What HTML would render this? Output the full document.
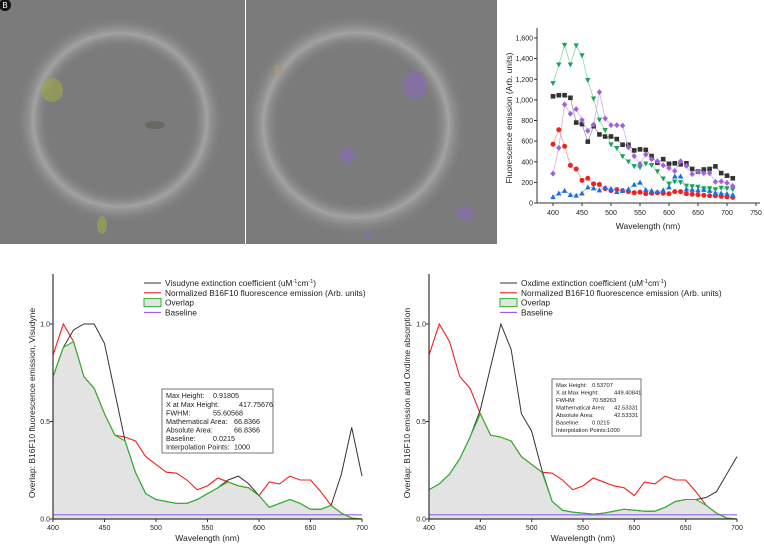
<!DOCTYPE html>
<html><head><meta charset="utf-8"><style>
body{margin:0;background:#fff;width:764px;height:546px;overflow:hidden;font-family:"Liberation Sans",sans-serif}
svg{position:absolute;left:0;top:0}
</style></head><body>
<svg id="fig" width="764" height="546" xmlns="http://www.w3.org/2000/svg" font-family="Liberation Sans, sans-serif">
<defs>
<radialGradient id="ringL" cx="0.5" cy="0.5" r="0.5">
<stop offset="0.58" stop-color="#7d7d7d" stop-opacity="0"/>
<stop offset="0.70" stop-color="#b0b0b0" stop-opacity="0.75"/>
<stop offset="0.84" stop-color="#7d7d7d" stop-opacity="0"/>
</radialGradient>
</defs>
<g>
<rect x="0" y="0" width="245" height="244" fill="#7b7b7b"/>
<circle cx="120" cy="120" r="124" fill="url(#ringL)"/>
<ellipse cx="52" cy="90" rx="11" ry="12" fill="#a0a848" opacity="0.6"/>
<ellipse cx="155" cy="125" rx="10" ry="4" fill="#5f6450" opacity="0.7"/>
<ellipse cx="102" cy="225" rx="5" ry="9" fill="#a0a848" opacity="0.6"/>
<circle cx="5" cy="5" r="6" fill="#111"/>
<text x="5" y="8" font-size="8" fill="#fff" text-anchor="middle">B</text>
</g>
<g>
<rect x="246" y="0" width="251" height="244" fill="#7b7b7b"/>
<circle cx="356" cy="125" r="132" fill="url(#ringL)"/>
<ellipse cx="415" cy="85" rx="12" ry="14" fill="#8a6ab8" opacity="0.6"/>
<ellipse cx="347" cy="155" rx="8" ry="8" fill="#8a6ab8" opacity="0.6"/>
<ellipse cx="465" cy="213" rx="9" ry="7" fill="#8a6ab8" opacity="0.6"/>
<ellipse cx="278" cy="70" rx="4" ry="5" fill="#a89870" opacity="0.6"/>
<ellipse cx="368" cy="237" rx="4" ry="4" fill="#8a6ab8" opacity="0.6"/>
</g>
<g id="top"></g>
<g id="bl"></g>
<g id="br"></g>
</svg>
<script>
const wl=[400,410,420,430,440,450,460,470,480,490,500,510,520,530,540,550,560,570,580,590,600,610,620,630,640,650,660,670,680,690,700,710];
const sBlack=[1035,1045,1045,1020,780,765,595,745,665,645,645,620,565,565,510,520,515,455,390,425,380,385,375,385,330,305,325,330,355,290,265,240];
const sGreen=[1160,1340,1530,1340,1525,1430,1190,1010,805,705,565,530,450,400,355,345,380,365,305,235,185,205,200,165,160,155,140,140,130,145,140,130];
const sPurple=[285,535,955,865,910,805,700,760,1075,820,755,755,750,540,455,380,470,425,405,365,340,310,405,360,280,305,290,290,205,210,195,165];
const sRed=[570,710,550,365,330,220,240,185,180,140,120,130,120,110,100,105,90,95,100,95,90,110,110,90,85,80,75,70,70,65,60,55];
const sBlue=[60,95,120,80,75,95,155,145,125,150,140,110,120,135,180,200,130,120,110,125,155,260,260,135,130,125,130,120,100,95,90,80];
const topYTicks=[0,200,400,600,800,1000,1200,1400,1600];
const topXTicks=[400,450,500,550,600,650,700,750];

const wl2=[400,410,420,430,440,450,460,470,480,490,500,510,520,530,540,550,560,570,580,590,600,610,620,630,640,650,660,670,680,690,700];
const normEmission=[0.84,1.0,0.91,0.73,0.67,0.54,0.43,0.42,0.40,0.32,0.28,0.24,0.235,0.20,0.15,0.17,0.21,0.19,0.17,0.16,0.12,0.19,0.18,0.22,0.20,0.20,0.14,0.07,0.03,0.005,0.0];
const visudyne=[0.73,0.88,0.97,1.0,1.0,0.9,0.65,0.40,0.24,0.13,0.10,0.09,0.08,0.08,0.10,0.13,0.16,0.20,0.22,0.18,0.12,0.06,0.08,0.10,0.08,0.05,0.05,0.07,0.23,0.47,0.22];
const overlapV=[0.73,0.88,0.91,0.73,0.67,0.54,0.43,0.40,0.24,0.13,0.10,0.09,0.08,0.08,0.10,0.13,0.16,0.19,0.17,0.16,0.12,0.06,0.08,0.10,0.08,0.05,0.05,0.07,0.03,0.005,0.0];
const oxdime=[0.15,0.18,0.23,0.31,0.42,0.56,0.78,1.0,0.87,0.54,0.45,0.25,0.09,0.045,0.035,0.03,0.025,0.03,0.04,0.05,0.045,0.04,0.04,0.06,0.09,0.10,0.10,0.11,0.14,0.23,0.32];
const overlapO=[0.15,0.18,0.23,0.31,0.42,0.54,0.43,0.42,0.40,0.32,0.28,0.24,0.09,0.045,0.035,0.03,0.025,0.03,0.04,0.05,0.045,0.04,0.04,0.06,0.09,0.10,0.10,0.07,0.03,0.005,0.0];
const ovXTicks=[400,450,500,550,600,650,700];
const ovYTicks=[0.0,0.5,1.0];
const baseline=0.0215;

const NS="http://www.w3.org/2000/svg";
function mk(p,t,a){const e=document.createElementNS(NS,t);for(const k in a)e.setAttribute(k,a[k]);p.appendChild(e);return e;}
function txt(p,x,y,s,size,anchor,extra){const e=mk(p,'text',Object.assign({x:x,y:y,'font-size':size,'text-anchor':anchor||'start',fill:'#222'},extra||{}));e.textContent=s;return e;}

(function(){
const g=document.getElementById('top');
const X=v=>553+(v-400)*(756-553)/350, Y=v=>203-v*(203-38)/1600;
mk(g,'line',{x1:537,y1:28,x2:537,y2:203,stroke:'#333','stroke-width':1});
mk(g,'line',{x1:537,y1:203,x2:760,y2:203,stroke:'#333','stroke-width':1});
topYTicks.forEach(t=>{mk(g,'line',{x1:534,y1:Y(t),x2:537,y2:Y(t),stroke:'#333'});
const l=txt(g,533,Y(t)+2.5,t.toLocaleString('en-US'),7,'end');

});
topXTicks.forEach(t=>{mk(g,'line',{x1:X(t),y1:203,x2:X(t),y2:206,stroke:'#333'});
const l=txt(g,X(t),215,String(t),7,'middle');

});
const xt=txt(g,648,229,'Wavelength (nm)',8.5,'middle');


const yt=txt(g,512,118,'Fluorescence emission (Arb. units)',8.5,'middle',{transform:'rotate(-90 512 118)'});


const series=[[sBlack,'#333','#9a9a9a','sq'],[sGreen,'#1aa35a','#8fd6ae','dn'],[sPurple,'#a060e0','#cfb0ef','dia'],[sRed,'#ee2222','#f3a0a0','c'],[sBlue,'#1a6ee0','#95b9f0','up']];
series.forEach(([d,c,lc,m])=>{
const sg=mk(g,'g',{});


mk(sg,'polyline',{points:d.map((v,i)=>X(wl[i])+','+Y(v)).join(' '),fill:'none',stroke:lc,'stroke-width':0.8});
d.forEach((v,i)=>{const x=X(wl[i]),y=Y(v);let e;
if(m=='sq')e=mk(sg,'rect',{x:x-2.3,y:y-2.3,width:4.6,height:4.6,fill:c});
else if(m=='c')e=mk(sg,'circle',{cx:x,cy:y,r:2.5,fill:c});
else if(m=='dn')e=mk(sg,'polygon',{points:`${x-2.7},${y-2.3} ${x+2.7},${y-2.3} ${x},${y+2.7}`,fill:c});
else if(m=='up')e=mk(sg,'polygon',{points:`${x-2.7},${y+2.3} ${x+2.7},${y+2.3} ${x},${y-2.7}`,fill:c});
else e=mk(sg,'polygon',{points:`${x},${y-3} ${x+2.7},${y} ${x},${y+3} ${x-2.7},${y}`,fill:c});

});
});
})();

function overlapChart(id,x0,x1,ext,ov,extName,ytitle,ytx,box,boxFont,boxCols){
const g=document.getElementById(id);
const X=v=>x0+(v-400)*(x1-x0)/300, Y=v=>519-v*195;
const pts=ov.map((v,i)=>X(wl2[i])+','+Y(v)).join(' ');
const area=mk(g,'polygon',{points:X(400)+','+Y(0)+' '+pts+' '+X(700)+','+Y(0),fill:'#e3e3e3'});


const bl=mk(g,'line',{x1:X(400),y1:Y(baseline),x2:X(700),y2:Y(baseline),stroke:'#9b5ef0','stroke-width':1.2});


const rl=mk(g,'polyline',{points:normEmission.map((v,i)=>X(wl2[i])+','+Y(v)).join(' '),fill:'none',stroke:'#f02020','stroke-width':1.1});


const kl=mk(g,'polyline',{points:ext.map((v,i)=>X(wl2[i])+','+Y(v)).join(' '),fill:'none',stroke:'#333','stroke-width':1});


const gl=mk(g,'polyline',{points:pts,fill:'none',stroke:'#2cb52c','stroke-width':1.1});


mk(g,'line',{x1:x0,y1:274,x2:x0,y2:519,stroke:'#333','stroke-width':1.2});
mk(g,'line',{x1:x0,y1:519,x2:x1,y2:519,stroke:'#333','stroke-width':1.2});
ovYTicks.forEach(t=>{mk(g,'line',{x1:x0-3,y1:Y(t),x2:x0,y2:Y(t),stroke:'#333'});
const l=txt(g,x0-3,Y(t)+2.5,t.toFixed(1),7,'end');

});
ovXTicks.forEach(t=>{mk(g,'line',{x1:X(t),y1:519,x2:X(t),y2:522,stroke:'#333'});
const l=txt(g,X(t),530,String(t),7,'middle');

});
const xt=txt(g,(x0+x1)/2,541,'Wavelength (nm)',8.5,'middle');


const yt=txt(g,ytx,403,ytitle,8.5,'middle',{transform:`rotate(-90 ${ytx} 403)`});


const lx=x0+(id=='bl'?91:71);
const leg=mk(g,'g',{});


const items=[[extName,'#333'],['Normalized B16F10 fluorescence emission (Arb. units)','#f02020'],['Overlap','box'],['Baseline','#9b5ef0']];
items.forEach(([s,c],i)=>{const y=283+i*9.8;
if(c=='box')mk(leg,'rect',{x:lx,y:y-4,width:17,height:8,fill:'#e3e3e3',stroke:'#2cb52c','stroke-width':1});
else mk(leg,'line',{x1:lx,y1:y,x2:lx+17,y2:y,stroke:c,'stroke-width':1.1});
const t=txt(leg,lx+21,y+3,'',8.3,'start');
t.innerHTML=s;});
const bg=mk(g,'g',{});


mk(bg,'rect',{x:box[0],y:box[1],width:box[2],height:box[3],fill:'#fff',stroke:'#555','stroke-width':0.8});
const rows=box[4];
rows.forEach((r,i)=>{const y=box[1]+boxFont+2+i*(box[3]-4)/7;
txt(bg,box[0]+4,y,r[0],boxFont,'start');
txt(bg,box[0]+boxCols[i],y,r[1],boxFont,'start');});
}
overlapChart('bl',53,362,visudyne,overlapV,'Visudyne extinction coefficient (uM<tspan font-size="5.5" dy="-3">-1</tspan><tspan dy="3">cm</tspan><tspan font-size="5.5" dy="-3">-1</tspan><tspan dy="3">)</tspan>',
'Overlap: B16F10 fluorescence emission, Visudyne',35,
[162,389,111,64,[['Max Height:','0.91805'],['X at Max Height:','417.75676'],['FWHM:','55.60568'],['Mathematical Area:','66.8366'],['Absolute Area:','66.8366'],['Baseline:','0.0215'],['Interpolation Points:','1000']]],7.2,[51,77,51,72,72,51,72]);
overlapChart('br',429,737,oxdime,overlapO,'Oxdime extinction coefficient (uM<tspan font-size="5.5" dy="-3">-1</tspan><tspan dy="3">cm</tspan><tspan font-size="5.5" dy="-3">-1</tspan><tspan dy="3">)</tspan>',
'Overlap: B16F10 emission and Oxdime absorption',410,
[552,379,89,57,[['Max Height:','0.53707'],['X at Max Height:','449.40841'],['FWHM:','70.58263'],['Mathematical Area:','42.53331'],['Absolute Area:','42.53331'],['Baseline:','0.0215'],['Interpolation Points:','1000']]],5.8,[40,62,40,62,62,40,55]);
</script>
</body></html>
